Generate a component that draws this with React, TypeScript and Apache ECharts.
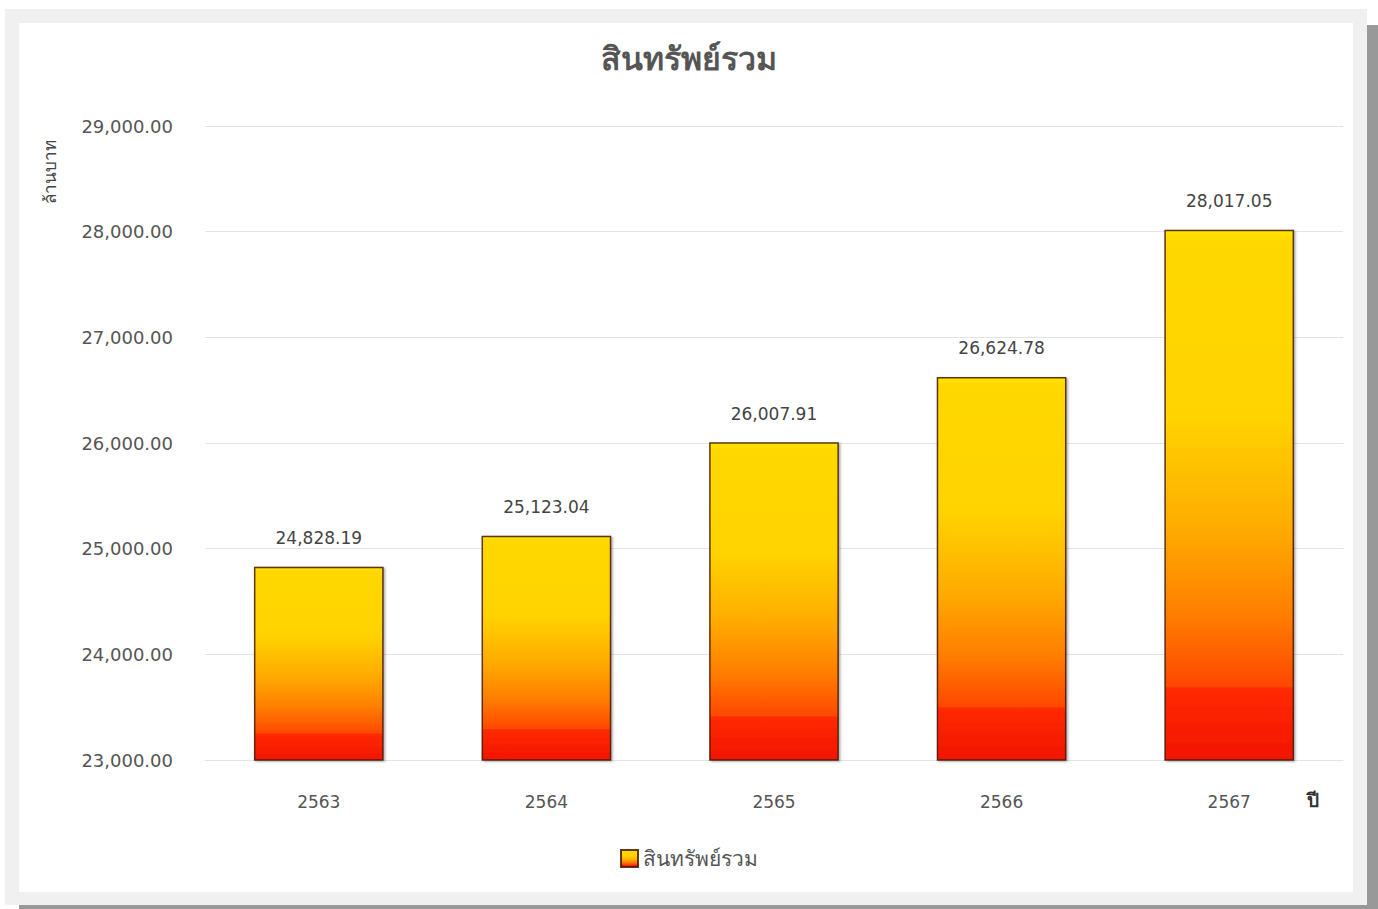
import React, { useEffect, useRef } from "react";
import * as echarts from "echarts";

const title = "สินทรัพย์รวม";
const seriesName = "สินทรัพย์รวม";
const yAxisName = "ล้านบาท";
const xAxisName = "ปี";
const categories = ["2563", "2564", "2565", "2566", "2567"];
const values = [24828.19, 25123.04, 26007.91, 26624.78, 28017.05];
const yMin = 23000;
const yMax = 29000;
const yInterval = 1000;

const fmt = (v: number) =>
  v.toLocaleString("en-US", { minimumFractionDigits: 2, maximumFractionDigits: 2 });

const FONT = "'DejaVu Sans', 'Noto Sans', sans-serif";

export default function App() {
  const ref = useRef<HTMLDivElement>(null);

  useEffect(() => {
    document.body.style.margin = "0";
    if (!ref.current) return;
    const chart = echarts.init(ref.current, undefined, { renderer: "svg" });
    const barGradient = new echarts.graphic.LinearGradient(0, 0, 0, 1, [
      { offset: 0, color: "#FFE600" },
      { offset: 0.02, color: "#FFD800" },
      { offset: 0.35, color: "#FFD300" },
      { offset: 0.55, color: "#FFAE00" },
      { offset: 0.72, color: "#FF8000" },
      { offset: 0.86, color: "#FF4800" },
      { offset: 0.865, color: "#FF2A00" },
      { offset: 1, color: "#F21400" },
    ]);
    chart.setOption({
      animation: false,
      backgroundColor: "transparent",
      title: {
        text: title,
        left: "center",
        top: 38,
        textStyle: { fontFamily: FONT, fontSize: 32, fontWeight: "bold", color: "#555" },
      },
      grid: { left: 205, right: 35, top: 126, bottom: 149 },
      legend: {
        bottom: 35,
        left: "center",
        itemWidth: 17,
        itemHeight: 17,
        icon: "rect",
        textStyle: { fontFamily: FONT, fontSize: 21, color: "#555" },
        data: [seriesName],
      },
      xAxis: {
        type: "category",
        data: categories,
        axisLine: { show: true, lineStyle: { color: "#e4e4e4" } },
        axisTick: { show: false },
        axisLabel: { margin: 33, fontFamily: FONT, fontSize: 17, color: "#555" },
      },
      yAxis: {
        type: "value",
        min: yMin,
        max: yMax,
        interval: yInterval,
        axisLine: { show: false },
        axisTick: { show: false },
        splitLine: { lineStyle: { color: "#e4e4e4" } },
        axisLabel: {
          margin: 32,
          fontFamily: FONT,
          fontSize: 18,
          color: "#555",
          formatter: (v: number) => fmt(v),
        },
      },
      graphic: [
        {
          type: "text",
          x: 50,
          y: 172,
          rotation: Math.PI / 2,
          style: {
            text: yAxisName,
            font: `17px ${FONT}`,
            fill: "#444",
            align: "center",
            verticalAlign: "middle",
          },
        },
        {
          type: "text",
          x: 1313,
          y: 800,
          style: {
            text: xAxisName,
            font: `bold 19px ${FONT}`,
            fill: "#333",
            align: "center",
            verticalAlign: "middle",
          },
        },
      ],
      series: [
        {
          name: seriesName,
          type: "bar",
          data: values,
          barWidth: "57%",
          itemStyle: {
            color: barGradient,
            borderColor: "rgba(70,25,0,0.85)",
            borderWidth: 1.5,
            shadowColor: "rgba(0,0,0,0.35)",
            shadowOffsetX: 1.5,
            shadowOffsetY: 1,
            shadowBlur: 2,
          },
          label: {
            show: true,
            position: "top",
            distance: 20,
            fontFamily: FONT,
            fontSize: 17,
            color: "#444",
            formatter: (p: any) => fmt(p.value),
          },
        },
      ],
    });
    return () => chart.dispose();
  }, []);

  return (
    <div style={{ position: "relative", width: 1378, height: 909, background: "#fff", overflow: "hidden" }}>
      <div style={{ position: "absolute", left: 1367, top: 25, width: 11, height: 884, background: "#999" }} />
      <div style={{ position: "absolute", left: 19, top: 905, width: 1359, height: 4, background: "#999" }} />
      <div style={{ position: "absolute", left: 5, top: 9, width: 1362, height: 896, background: "#f0f0f0" }} />
      <div style={{ position: "absolute", left: 19, top: 23, width: 1334, height: 869, background: "#fff" }} />
      <div ref={ref} style={{ position: "absolute", left: 0, top: 0, width: 1378, height: 909 }} />
    </div>
  );
}
